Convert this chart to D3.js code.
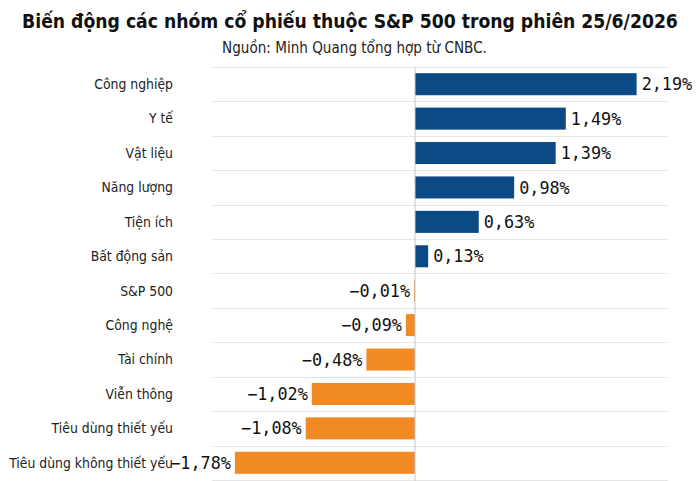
<!DOCTYPE html>
<html><head><meta charset="utf-8">
<script src="https://cdn.jsdelivr.net/npm/d3@7"></script>
<style>body{margin:0;background:#fff}svg{display:block}</style>
</head><body>
<svg id="c" width="700" height="481"></svg>
<script>
const categories = ["Công nghiệp","Y tế","Vật liệu","Năng lượng","Tiện ích","Bất động sản","S&P 500","Công nghệ","Tài chính","Viễn thông","Tiêu dùng thiết yếu","Tiêu dùng không thiết yếu"];
const values = [2.19,1.49,1.39,0.98,0.63,0.13,-0.01,-0.09,-0.48,-1.02,-1.08,-1.78];
const xDomain = [-2, 2.5];
const titleText = "Biến động các nhóm cổ phiếu thuộc S&P 500 trong phiên 25/6/2026";
const subtitleText = "Nguồn: Minh Quang tổng hợp từ CNBC.";

const svg = d3.select("#c");
const data = categories.map((c,i)=>({c, v: values[i]}));
const x = d3.scaleLinear().domain(xDomain).range([212.6, 668]);
const y = d3.scaleBand().domain(categories).range([67, 480]).paddingInner(0.36).paddingOuter(0.18);
const fmt = v => (v<0?"\u2212":"") + d3.format(".2f")(Math.abs(v)).replace(".", ",") + "%";
const sans = "'DejaVu Sans Condensed', 'DejaVu Sans', sans-serif";

function fit(sel, size, target){
  sel.attr("font-size", size);
  const w = sel.node().getComputedTextLength();
  sel.attr("font-size", size*target/w);
}

// title
const t = svg.append("text").attr("x",350).attr("y",28).attr("text-anchor","middle")
  .attr("font-family",sans).attr("font-stretch","condensed").attr("font-weight","bold")
  .attr("fill","#111").text(titleText);
fit(t, 20, 656);
const st = svg.append("text").attr("x",354.5).attr("y",53).attr("text-anchor","middle")
  .attr("font-family",sans).attr("font-stretch","condensed")
  .attr("fill","#222").text(subtitleText);
fit(st, 14, 265);

// grid lines
const step = y.step();
const gridYs = [y(categories[0]) - (step - y.bandwidth())/2].concat(categories.map(c => y(c) + y.bandwidth() + (step - y.bandwidth())/2));
svg.append("g").selectAll("line").data(gridYs).join("line")
  .attr("x1",212).attr("x2",668).attr("y1",d=>Math.round(d)+0.5).attr("y2",d=>Math.round(d)+0.5)
  .attr("stroke","#e6e6e6").attr("stroke-width",1);

// bars
svg.append("g").selectAll("rect").data(data).join("rect")
  .attr("x", d => x(Math.min(0,d.v)))
  .attr("width", d => Math.abs(x(d.v)-x(0)))
  .attr("y", d => y(d.c)).attr("height", y.bandwidth())
  .attr("fill", d => d.v>=0 ? "#0c4a86" : "#f28a24");

// zero line
svg.append("line").attr("x1",x(0)).attr("x2",x(0)).attr("y1",67).attr("y2",481)
  .attr("stroke","#bcc8d4").attr("stroke-width",1);

// category labels
const labels = svg.append("g").attr("font-family",sans).attr("font-stretch","condensed")
  .attr("fill","#222");
const lt = labels.selectAll("text").data(data).join("text")
  .attr("x",173).attr("y", d => y(d.c)+y.bandwidth()/2).attr("dy","0.35em")
  .attr("text-anchor","end").text(d=>d.c);
labels.attr("font-size",14);
const longest = lt.filter(d => d.c === "Tiêu dùng không thiết yếu").node().getComputedTextLength();
labels.attr("font-size", 14*164/longest);

// value labels
svg.append("g").selectAll("text").data(data).join("text")
  .attr("x", d => d.v>=0 ? x(d.v)+5 : x(d.v)-4)
  .attr("y", d => y(d.c)+y.bandwidth()/2).attr("dy","0.36em")
  .attr("text-anchor", d => d.v>=0 ? "start" : "end")
  .attr("font-family","'DejaVu Sans Mono', monospace").attr("font-size",16.8)
  .attr("fill","#111").text(d=>fmt(d.v));
</script>
</body></html>
